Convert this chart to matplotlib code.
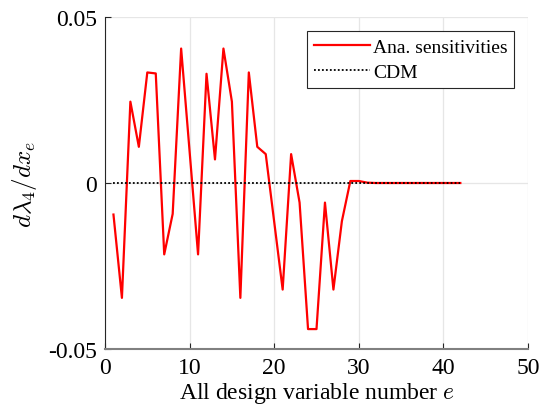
import numpy as np
import matplotlib
matplotlib.use("Agg")
import matplotlib.pyplot as plt

plt.rcParams['font.family'] = ['Liberation Serif', 'DejaVu Serif']
plt.rcParams['mathtext.fontset'] = 'cm'

# design variable index
elem = np.arange(1, 43)

# analytical sensitivities
ana = [-0.0095, -0.0346, 0.0245, 0.0109, 0.0333, 0.0330, -0.0215, -0.0093,
       0.0405, 0.0095, -0.0215, 0.0329, 0.0071, 0.0405, 0.0245, -0.0346,
       0.0333, 0.0109, 0.0087, -0.0117, -0.0321, 0.0087, -0.0059, -0.0440,
       -0.0440, -0.0059, -0.0321, -0.0115, 0.0006, 0.0006, 0.0001, 0.0,
       0.0, 0.0, 0.0, 0.0, 0.0, 0.0, 0.0, 0.0, 0.0, 0.0]

# central difference results
cdm = [0.0] * 42

xticks = [0, 10, 20, 30, 40, 50]
yticks = [-0.05, 0, 0.05]
ytick_labels = ['-0.05', '0', '0.05']

fig = plt.figure(figsize=(5.49, 4.14), dpi=100)
ax = fig.add_axes([105 / 549, 1 - 350 / 414, 423 / 549, 332 / 414])

ax.plot(elem, ana, color='red', lw=1.6, label='Ana. sensitivities')
ax.plot(elem, cdm, color='black', lw=1.3, ls=(0, (1, 1.2)), label='CDM')

ax.set_xlim(0, 50)
ax.set_ylim(-0.05, 0.05)
ax.set_xticks(xticks)
ax.set_yticks(yticks)
ax.set_yticklabels(ytick_labels)
ax.grid(True, color='#e6e6e6', lw=0.9)
ax.set_axisbelow(True)
ax.tick_params(direction='in', labelsize=17, length=4, color='#262626', pad=6)
for s in ['top', 'right']:
    ax.spines[s].set_visible(False)
ax.spines['left'].set_color('#262626')
ax.spines['bottom'].set_color('#808080')
ax.spines['bottom'].set_linewidth(1.5)

ax.set_xlabel('All design variable number $e$', fontsize=17, labelpad=1)
ax.set_ylabel(r'$d\lambda_4/dx_e$', fontsize=18, labelpad=6)

leg = ax.legend(loc='upper right', bbox_to_anchor=(0.968, 0.957), fontsize=14,
                fancybox=False, framealpha=1, edgecolor='#262626',
                handlelength=2.9, handletextpad=0.15, borderpad=0.35,
                labelspacing=0.4, borderaxespad=0)
leg.get_frame().set_linewidth(0.8)

fig.savefig('out.png', dpi=100)
